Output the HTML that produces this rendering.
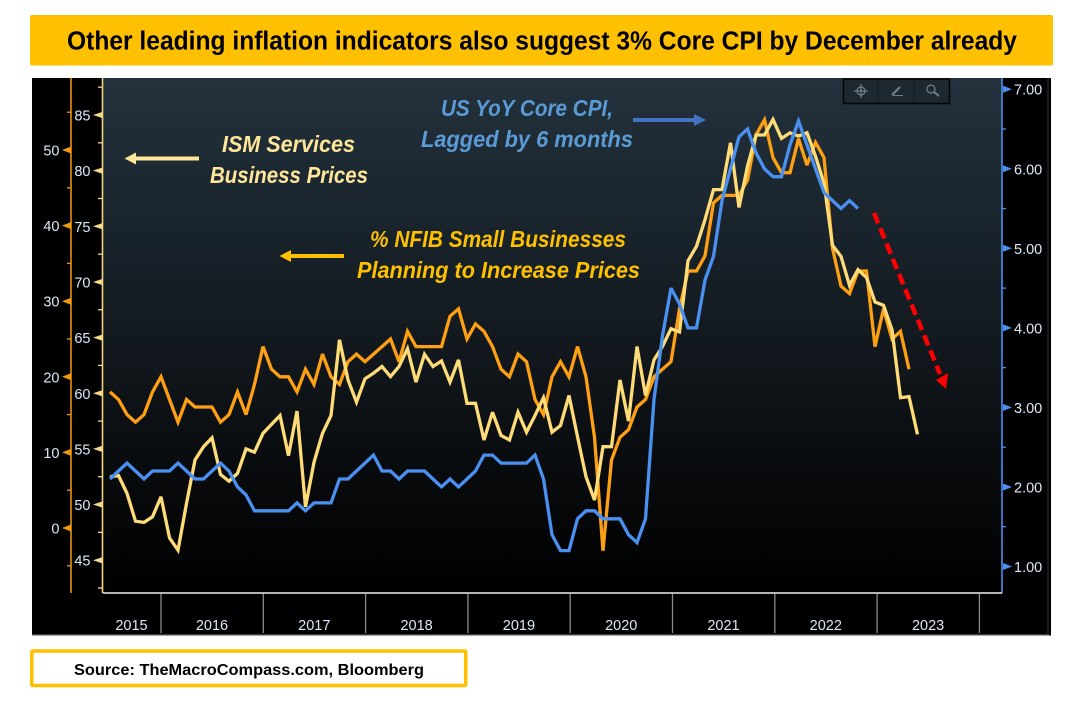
<!DOCTYPE html>
<html lang="en">
<head>
<meta charset="utf-8">
<title>Other leading inflation indicators also suggest 3% Core CPI by December already</title>
<style>
html,body{margin:0;padding:0;background:#fff;width:1070px;height:705px;overflow:hidden}
svg{display:block}
text{font-family:"Liberation Sans",sans-serif}
</style>
</head>
<body>
<svg id="chart" width="1070" height="705" viewBox="0 0 1070 705" xmlns="http://www.w3.org/2000/svg">
<defs>
<linearGradient id="plotGrad" x1="0" y1="0" x2="0" y2="1">
<stop offset="0" stop-color="#23323d"/>
<stop offset="0.3" stop-color="#19232b"/>
<stop offset="0.55" stop-color="#11171c"/>
<stop offset="0.8" stop-color="#07090b"/>
<stop offset="1" stop-color="#000"/>
</linearGradient>
</defs>
<rect x="30" y="15" width="1023" height="50.5" rx="2" fill="#FFC000"/>
<text x="67" y="49.5" font-size="25.5" font-weight="700" fill="#000" textLength="950" lengthAdjust="spacingAndGlyphs">Other leading inflation indicators also suggest 3% Core CPI by December already</text>
<rect x="32" y="78" width="1019" height="557.5" fill="#000"/>
<rect x="1047" y="78" width="2" height="557" fill="#1a1a1a"/>
<rect x="32" y="634" width="1017" height="1.5" fill="#444"/>
<rect x="103" y="78" width="899" height="515" fill="url(#plotGrad)"/>
<line x1="71" y1="78" x2="71" y2="593" stroke="#E8900C" stroke-width="1.6"/>
<line x1="102.5" y1="78" x2="102.5" y2="593" stroke="#F2D27A" stroke-width="1.6"/>
<line x1="1002" y1="78" x2="1002" y2="593" stroke="#4A90F0" stroke-width="1.6"/>
<line x1="103" y1="593" x2="1002" y2="593" stroke="#f0f0f0" stroke-width="1.6"/>
<g id="axes"></g>
<g id="series"></g>
<g>
<rect x="843.5" y="79" width="106" height="24.5" fill="#1d2831" stroke="#050505" stroke-width="1.5"/>
<line x1="878" y1="80" x2="878" y2="103" stroke="#141b21" stroke-width="1"/>
<line x1="914" y1="80" x2="914" y2="103" stroke="#141b21" stroke-width="1"/>
<g stroke="#76808a" stroke-width="1.2" fill="none">
<circle cx="861" cy="91" r="4"/><line x1="861" y1="84" x2="861" y2="98"/><line x1="854" y1="91" x2="868" y2="91"/>
</g>
<g stroke="#76808a" fill="none">
<line x1="892" y1="95" x2="900" y2="87" stroke-width="2"/><line x1="893" y1="95.500" x2="903" y2="95.500" stroke-width="1"/>
</g>
<g stroke="#76808a" fill="none">
<circle cx="931" cy="89" r="4" stroke-width="1.2"/><line x1="934" y1="92" x2="939" y2="96" stroke-width="2"/>
</g>
</g>
<g>
<text x="222" y="152" font-size="23" font-weight="700" font-style="italic" fill="#FFE699" textLength="133" lengthAdjust="spacingAndGlyphs">ISM Services</text>
<text x="210" y="183" font-size="23" font-weight="700" font-style="italic" fill="#FFE699" textLength="158" lengthAdjust="spacingAndGlyphs">Business Prices</text>
<line x1="199" y1="158.500" x2="135" y2="158.500" stroke="#FFE699" stroke-width="4"/>
<polygon points="124.500,158.500 136,152.500 136,164.500" fill="#FFE699"/>
</g>
<g>
<text x="370" y="247" font-size="23" font-weight="700" font-style="italic" fill="#FFC000" textLength="256" lengthAdjust="spacingAndGlyphs">% NFIB Small Businesses</text>
<text x="357" y="278" font-size="23" font-weight="700" font-style="italic" fill="#FFC000" textLength="283" lengthAdjust="spacingAndGlyphs">Planning to Increase Prices</text>
<line x1="344" y1="256" x2="290" y2="256" stroke="#FFC000" stroke-width="4"/>
<polygon points="279.500,256 291,250 291,262" fill="#FFC000"/>
</g>
<g>
<text x="441" y="116" font-size="23" font-weight="700" font-style="italic" fill="#5B9BD5" textLength="172" lengthAdjust="spacingAndGlyphs">US YoY Core CPI,</text>
<text x="421" y="147" font-size="23" font-weight="700" font-style="italic" fill="#5B9BD5" textLength="212" lengthAdjust="spacingAndGlyphs">Lagged by 6 months</text>
<line x1="633" y1="120" x2="695" y2="120" stroke="#4472C4" stroke-width="4"/>
<polygon points="706,120 694,114 694,126" fill="#4472C4"/>
</g>
<g>
<line x1="874" y1="213" x2="940" y2="374" stroke="#FF0000" stroke-width="4.500" stroke-dasharray="11 5.500"/>
<polygon points="946,389 936,380 948,373" fill="#FF0000"/>
</g>
<rect x="31.750" y="651" width="434" height="34.500" rx="1" fill="#fff" stroke="#FFC000" stroke-width="3.500"/>
<text x="74" y="675" font-size="16" font-weight="700" fill="#000" textLength="350" lengthAdjust="spacingAndGlyphs">Source: TheMacroCompass.com, Bloomberg</text>
</svg>
<script>
var ismValues = [52.5,52.6,51.0,48.5,48.4,48.9,50.7,47.0,45.9,50.1,54.0,55.2,56.0,52.7,52.1,52.8,55.0,54.7,56.4,57.2,58.0,54.4,58.4,49.8,53.8,56.4,58.0,64.8,61.2,59.2,61.3,61.8,62.4,61.5,62.4,64.0,61.0,63.5,62.4,62.9,61.0,63.0,59.1,59.1,55.8,58.3,56.2,55.8,58.3,56.5,58.0,59.6,56.5,57.1,59.8,56.1,52.5,50.4,55.2,55.2,61.2,57.5,64.2,59.8,63.0,64.2,65.8,65.5,71.9,73.2,75.6,78.3,78.3,82.5,76.7,80.4,83.2,83.2,84.6,82.9,83.4,83.1,83.4,81.3,78.9,73.3,72.3,69.7,71.1,70.4,68.2,67.9,65.7,59.6,59.7,56.3];
var nfibValues = [18,17,15,14,15,18,20,17,14,17,16,16,16,14,15,18,15,19,24,21,20,20,18,21,19,23,20,19,22,23,22,23,24,25,22,26,24,24,24,24,28,29,25,27,26,24,21,20,23,22,17,15,20,22,20,24,20,12,-3,9,12,13,16,17,20,21,22,29,34,34,36,43,44,44,44,46,52,54,49,47,47,51.5,48,51,49,37,32,31,34,34,24,29,25,26,21];
var cpiValues = [2.1,2.2,2.3,2.2,2.1,2.2,2.2,2.2,2.3,2.2,2.1,2.1,2.2,2.3,2.2,2.0,1.9,1.7,1.7,1.7,1.7,1.7,1.8,1.7,1.8,1.8,1.8,2.1,2.1,2.2,2.3,2.4,2.2,2.2,2.1,2.2,2.2,2.2,2.1,2.0,2.1,2.0,2.1,2.2,2.4,2.4,2.3,2.3,2.3,2.3,2.4,2.1,1.4,1.2,1.2,1.6,1.7,1.7,1.6,1.6,1.6,1.4,1.3,1.6,3.1,3.9,4.5,4.3,4.0,4.0,4.6,4.9,5.6,6.0,6.4,6.5,6.2,6.0,5.9,5.9,6.3,6.6,6.3,6.0,5.7,5.6,5.5,5.6,5.5];
var ismTicks = [45,50,55,60,65,70,75,80,85];
var nfibTicks = [0,10,20,30,40,50];
var cpiTicks = [1,2,3,4,5,6,7];
var yearLabels = ["2015","2016","2017","2018","2019","2020","2021","2022","2023"];

var NS = "http://www.w3.org/2000/svg";
var axes = document.getElementById("axes");
var seriesGroup = document.getElementById("series");

function xMonth(i){ return 110 + 8.5 * i; }
function yIsm(v){ return 115 + (85 - v) * 11.13; }
function yNfib(v){ return 528 - v * 7.56; }
function yCpi(v){ return 566.5 - (v - 1) * 79.55; }
function xYearTick(k){ return 161 + 102.3 * k; }

function svgEl(tag, attrs){
  var el = document.createElementNS(NS, tag);
  for (var k in attrs) el.setAttribute(k, attrs[k]);
  return el;
}

function drawLine(values, color, name){
  var pts = [];
  for (var i = 0; i < values.length; i++) pts.push(xMonth(i).toFixed(1) + "," + yScaleFor(name)(values[i]).toFixed(1));
  var el = svgEl("polyline", {points: pts.join(" "), fill: "none", stroke: color, "stroke-width": 3.3, "stroke-linejoin": "miter", "stroke-miterlimit": 3});
  
  
  seriesGroup.appendChild(el);
}
function yScaleFor(name){
  if (name === "nfib-line") return yNfib;
  if (name === "ism-line") return yIsm;
  return yCpi;
}

/* NFIB axis (far left) */
nfibTicks.forEach(function(v){
  var y = yNfib(v);
  var tri = svgEl("polygon", {points: "62," + y + " 71," + (y - 3.5) + " 71," + (y + 3.5), fill: "#F09A12"});
  
  
  axes.appendChild(tri);
  var t = svgEl("text", {x: 59.5, y: y + 5.5, "font-size": 14.5, fill: "#dbe8f5", "text-anchor": "end"});
  t.textContent = String(v);
  
  
  axes.appendChild(t);
  var m = svgEl("line", {x1: 67, x2: 71, y1: yNfib(v - 5), y2: yNfib(v - 5), stroke: "#F09A12", "stroke-width": 1.3});
  
  
  axes.appendChild(m);
});
var nfibTop = svgEl("line", {x1: 67, x2: 71, y1: yNfib(55), y2: yNfib(55), stroke: "#F09A12", "stroke-width": 1.3});


axes.appendChild(nfibTop);

/* ISM axis */
ismTicks.forEach(function(v){
  var y = yIsm(v);
  var tri = svgEl("polygon", {points: "93," + y + " 102," + (y - 3) + " 102," + (y + 3), fill: "#F7DA85"});
  
  
  axes.appendChild(tri);
  var t = svgEl("text", {x: 90.5, y: y + 5.5, "font-size": 14.5, fill: "#dbe8f5", "text-anchor": "end"});
  t.textContent = String(v);
  
  
  axes.appendChild(t);
  var m = svgEl("line", {x1: 98, x2: 102, y1: yIsm(v + 2.5), y2: yIsm(v + 2.5), stroke: "#F7DA85", "stroke-width": 1.3});
  
  
  axes.appendChild(m);
});
var ismLow = svgEl("line", {x1: 98, x2: 102, y1: yIsm(42.5), y2: yIsm(42.5), stroke: "#F7DA85", "stroke-width": 1.3});


axes.appendChild(ismLow);

/* CPI axis (right) */
cpiTicks.forEach(function(v){
  var y = yCpi(v);
  var tri = svgEl("polygon", {points: "1012," + y + " 1003," + (y - 3.5) + " 1003," + (y + 3.5), fill: "#4A90F0"});
  
  
  axes.appendChild(tri);
  var t = svgEl("text", {x: 1014, y: y + 5.5, "font-size": 14.5, fill: "#dbe8f5"});
  t.textContent = v.toFixed(2);
  
  
  axes.appendChild(t);
  if (v < 7) {
    var m = svgEl("line", {x1: 1002, x2: 1006, y1: yCpi(v + 0.5), y2: yCpi(v + 0.5), stroke: "#4A90F0", "stroke-width": 1.3});
    
    
    axes.appendChild(m);
  }
});

/* Year separators and labels */
yearLabels.forEach(function(lbl, k){
  var x = xYearTick(k);
  var sep = svgEl("line", {x1: x, x2: x, y1: 594, y2: 633, stroke: "#8a8a8a", "stroke-width": 1.3});
  
  
  axes.appendChild(sep);
  var cx = k === 0 ? 131.5 : xYearTick(k - 1) + 51;
  var t = svgEl("text", {x: cx, y: 630, "font-size": 14.5, fill: "#dbe8f5", "text-anchor": "middle"});
  t.textContent = lbl;
  
  
  axes.appendChild(t);
});

drawLine(nfibValues, "#FF9F14", "nfib-line");
drawLine(ismValues, "#FFDC78", "ism-line");
drawLine(cpiValues, "#4A90F0", "cpi-line");
</script>
</body>
</html>
